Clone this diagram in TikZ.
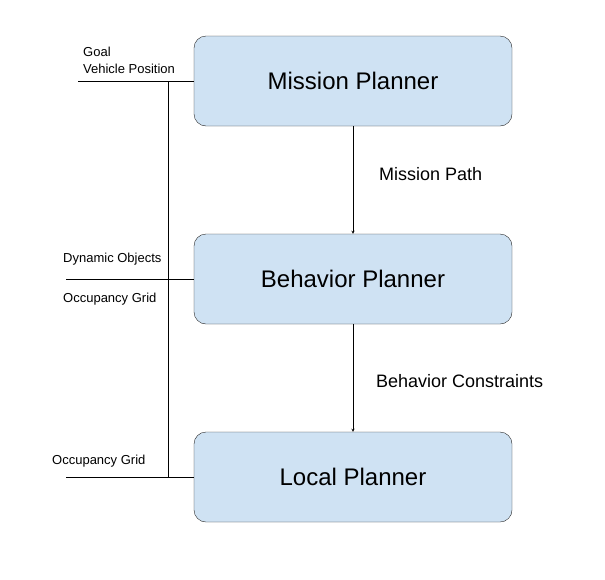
\documentclass[tikz,border=0pt]{standalone}
\usepackage{fontspec}
\setmainfont{Liberation Sans}
\definecolor{plannerblue}{HTML}{CFE2F3}
\tikzset{
  planner/.style={draw=black!85, fill=plannerblue, rounded corners=12pt,
    minimum width=318pt, minimum height=90pt, font=\fontsize{24}{28}\selectfont},
  flowlabel/.style={anchor=west, inner sep=0pt, font=\fontsize{18}{21}\selectfont},
  inlabel/.style={anchor=west, inner sep=0pt, font=\fontsize{13}{15}\selectfont}
}
\begin{document}
\begin{tikzpicture}[x=1pt, y=-1pt, >=stealth]
\useasboundingbox (0,0) rectangle (605,579);
\node[planner] (mission) at (353,81) {Mission Planner};
\node[planner] (behavior) at (353,279) {Behavior Planner};
\node[planner] (local) at (353,477) {Local Planner};

\draw[->] (mission.south) -- (behavior.north);
\draw[->] (behavior.south) -- (local.north);
\node[flowlabel] (pathlbl) at (379,174) {Mission Path};
\node[flowlabel] (conslbl) at (376,381) {Behavior Constraints};

\coordinate (goalin) at (78,81);
\coordinate (dynin) at (66,279);
\coordinate (gridin) at (66,477);
\coordinate (bustop) at (168,81);
\coordinate (busbot) at (168,477);
\draw (goalin) -- (mission.west);
\draw (dynin) -- (behavior.west);
\draw (gridin) -- (local.west);
\draw (bustop) -- (busbot);

\node[inlabel] (goal) at (83,52) {Goal};
\node[inlabel] (vehpos) at (83,69) {Vehicle Position};
\node[inlabel] (dynobj) at (63,259) {Dynamic Objects};
\node[inlabel] (occgrid) at (63,299) {Occupancy Grid};
\node[inlabel] (occgrid2) at (52,461) {Occupancy Grid};
\end{tikzpicture}
\end{document}
